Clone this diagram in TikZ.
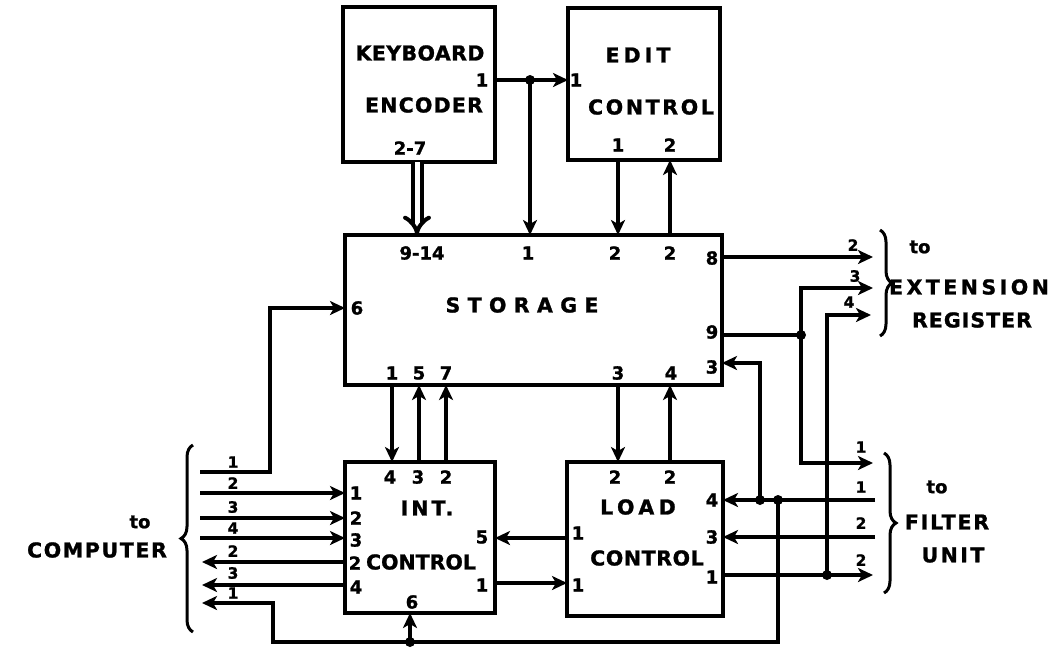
\documentclass[tikz,border=0pt]{standalone}
\usepackage{fontspec}
\setmainfont{DejaVu Sans}[BoldFeatures={FakeBold=1.2}]
\usetikzlibrary{arrows.meta,decorations.pathreplacing,calc}
\begin{document}
\begin{tikzpicture}[x=1pt,y=-1pt,
  box/.style={draw,line width=4pt,inner sep=0pt,outer sep=0pt},
  wire/.style={line width=4pt},
  arr/.style={line width=4pt,-{Stealth[length=15pt,width=14pt,inset=4pt]}},
  title/.style={font=\fontsize{20.5}{20.5}\selectfont\bfseries\addfontfeature{LetterSpace=#1},inner sep=0pt},
  title/.default=0,
  pin/.style={font=\fontsize{18}{18}\selectfont\bfseries,inner sep=0pt},
  small/.style={font=\fontsize{15.5}{15.5}\selectfont\bfseries,inner sep=0pt},
  brc/.style={line width=3pt,decorate,decoration={brace,amplitude=12pt}}]
\useasboundingbox (0,0) rectangle (1063,649);
% boxes
\node[box,minimum width=152pt,minimum height=155pt] (kb) at (419,84.5) {};
\node[box,minimum width=152pt,minimum height=152pt] (ed) at (644,84) {};
\node[box,minimum width=377pt,minimum height=150pt] (st) at (533.5,310) {};
\node[box,minimum width=150pt,minimum height=151pt] (ic) at (420,537.5) {};
\node[box,minimum width=156pt,minimum height=154pt] (lc) at (645,539) {};
% box texts
\node[title=2] (kbt1) at (420,53) {KEYBOARD};
\node[title=6] (kbt2) at (424,105) {ENCODER};
\node[title=20] (edt1) at (638,55) {EDIT};
\node[title=13] (edt2) at (651,107) {CONTROL};
\node[title=36] (stt) at (522,305) {STORAGE};
\node[title=15] (ict1) at (427,508) {INT.};
\node[title=0] (ict2) at (421,562) {CONTROL};
\node[title=22] (lct1) at (638,507) {LOAD};
\node[title=3] (lct2) at (647,558) {CONTROL};
% pins
\node[pin] (p1) at (482,80) {1};
\node[pin] (p2) at (410,148) {2-7};
\node[pin] (p3) at (576,80) {1};
\node[pin] (p4) at (618,145) {1};
\node[pin] (p5) at (670,145) {2};
\node[pin] (p6) at (422,253) {9-14};
\node[pin] (p7) at (528,253) {1};
\node[pin] (p8) at (615,253) {2};
\node[pin] (p9) at (670,253) {2};
\node[pin] (p10) at (357,308) {6};
\node[pin] (p11) at (712,258) {8};
\node[pin] (p12) at (712,332) {9};
\node[pin] (p13) at (712,367) {3};
\node[pin] (p14) at (392,373) {1};
\node[pin] (p15) at (419,373) {5};
\node[pin] (p16) at (446,373) {7};
\node[pin] (p17) at (618,373) {3};
\node[pin] (p18) at (671,373) {4};
\node[pin] (p19) at (390,477) {4};
\node[pin] (p20) at (418,477) {3};
\node[pin] (p21) at (446,477) {2};
\node[pin] (p22) at (356,493) {1};
\node[pin] (p23) at (356,518) {2};
\node[pin] (p24) at (356,540) {3};
\node[pin] (p25) at (355,563) {2};
\node[pin] (p26) at (356,587) {4};
\node[pin] (p27) at (482,537) {5};
\node[pin] (p28) at (482,585) {1};
\node[pin] (p29) at (412,602) {6};
\node[pin] (p30) at (615,477) {2};
\node[pin] (p31) at (670,477) {2};
\node[pin] (p32) at (578,533) {1};
\node[pin] (p33) at (578,585) {1};
\node[pin] (p34) at (712,500) {4};
\node[pin] (p35) at (712,537) {3};
\node[pin] (p36) at (712,577) {1};
% wire labels
\node[small] (w1) at (853,245) {2};
\node[small] (w2) at (855,276) {3};
\node[small] (w3) at (849,302) {4};
\node[small] (w4) at (861,447) {1};
\node[small] (w5) at (861,487) {1};
\node[small] (w6) at (861,523) {2};
\node[small] (w7) at (861,560) {2};
\node[small] (w8) at (233,462) {1};
\node[small] (w9) at (233,483) {2};
\node[small] (w10) at (233,507) {3};
\node[small] (w11) at (233,528) {4};
\node[small] (w12) at (233,551) {2};
\node[small] (w13) at (233,573) {3};
\node[small] (w14) at (233,593) {1};
% external texts
\node[pin] (ext0) at (920,247) {to};
\node[title=17] (ext1) at (969,287) {EXTENSION};
\node[title=5] (ext2) at (972,320) {REGISTER};
\node[pin] (fil0) at (937,487) {to};
\node[title=9] (fil1) at (947,522) {FILTER};
\node[title=12] (fil2) at (953,555) {UNIT};
\node[pin] (com0) at (140,522) {to};
\node[title=8] (com1) at (97,550) {COMPUTER};
% coordinates
\coordinate (j1) at (530,80);
\coordinate (j9) at (801,335);
\coordinate (j4) at (827,575);
\coordinate (j3) at (760,500);
\coordinate (j6) at (778,500);
\coordinate (j7) at (410,642);
\coordinate (corner) at (273,642);
\coordinate (eb1) at (873,257);
\coordinate (eb2) at (873,288);
\coordinate (eb3) at (871,315);
\coordinate (fb1) at (873,463);
\coordinate (fin1) at (875,500);
\coordinate (fin2) at (875,537);
\coordinate (fb4) at (873,575);
\coordinate (ci1) at (200,472);
\coordinate (k6) at (270,308);
\coordinate (ci2) at (200,493);
\coordinate (ci3) at (200,518);
\coordinate (ci4) at (200,538);
\coordinate (co1) at (202,562);
\coordinate (co2) at (202,585);
\coordinate (co3) at (202,603);
% top connections
\draw[arr] (kb.east |- j1) -- (ed.west |- j1);
\draw[arr] (j1) -- (j1 |- st.north);
\draw[line width=4pt,double,double distance=5pt,-{Implies[length=16pt,width=28pt]}] (417,0 |- kb.south) -- (417,0 |- st.north);
\draw[arr] (618,0 |- ed.south) -- (618,0 |- st.north);
\draw[arr] (670,0 |- st.north) -- (670,0 |- ed.south);
% storage - int / load
\draw[arr] (392,0 |- st.south) -- (392,0 |- ic.north);
\draw[arr] (419,0 |- ic.north) -- (419,0 |- st.south);
\draw[arr] (446,0 |- ic.north) -- (446,0 |- st.south);
\draw[arr] (618,0 |- st.south) -- (618,0 |- lc.north);
\draw[arr] (670,0 |- lc.north) -- (670,0 |- st.south);
\draw[arr] (lc.west |- 0,538) -- (ic.east |- 0,538);
\draw[arr] (ic.east |- 0,583) -- (lc.west |- 0,583);
% right side
\draw[arr] (st.east |- eb1) -- (eb1);
\draw[wire] (st.east |- j9) -- (j9);
\draw[arr] (j9) |- (eb2);
\draw[arr] (j9) |- (fb1);
\draw[arr] (lc.east |- fb4) -- (fb4);
\draw[arr] (j4) |- (eb3);
\draw[arr] (fin1) -- (lc.east |- fin1);
\draw[arr] (j3) |- (st.east |- 0,363);
\draw[arr] (j6) |- (corner) |- (co3);
\draw[arr] (j7) -- (j7 |- ic.south);
\draw[arr] (fin2) -- (lc.east |- fin2);
% left side
\draw[arr] (ci1) -| (k6) -- (st.west |- k6);
\draw[arr] (ci2) -- (ic.west |- ci2);
\draw[arr] (ci3) -- (ic.west |- ci3);
\draw[arr] (ci4) -- (ic.west |- ci4);
\draw[arr] (ic.west |- co1) -- (co1);
\draw[arr] (ic.west |- co2) -- (co2);
% dots
\foreach \d in {j1,j9,j4,j3,j6,j7} \fill (\d) circle (5pt);
% braces
\draw[brc] (880,230) -- (880,336);
\draw[brc] (884,453) -- (884,593);
\draw[brc] (193,632) -- (193,445);
\end{tikzpicture}
\end{document}
